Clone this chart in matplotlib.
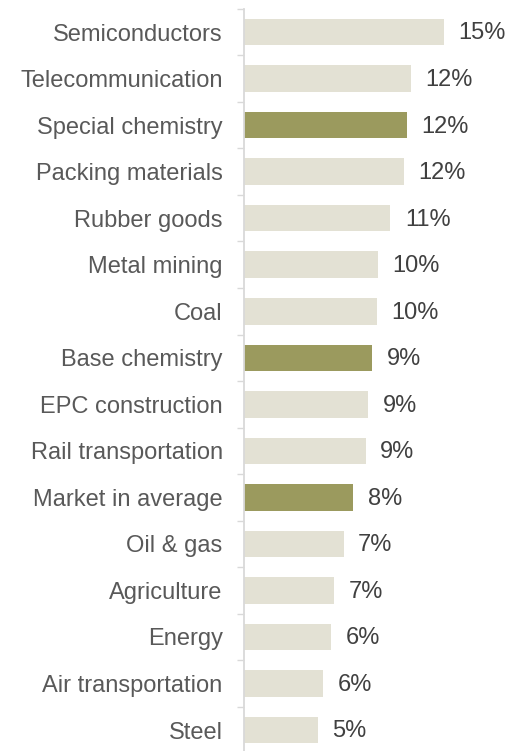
import matplotlib.pyplot as plt
import numpy as np

# sector returns, top to bottom
sectors = ['Semiconductors', 'Telecommunication', 'Special chemistry', 'Packing materials',
           'Rubber goods', 'Metal mining', 'Coal', 'Base chemistry', 'EPC construction',
           'Rail transportation', 'Market in average', 'Oil & gas', 'Agriculture', 'Energy',
           'Air transportation', 'Steel']
values = [14.6, 12.2, 11.9, 11.7, 10.7, 9.8, 9.7, 9.4, 9.1, 8.9, 8.0, 7.3, 6.6, 6.4, 5.8, 5.4]
highlight = ['Special chemistry', 'Base chemistry', 'Market in average']

plt.rcParams['font.family'] = ['Liberation Sans', 'DejaVu Sans']

fig = plt.figure(figsize=(5.11, 7.51), dpi=100)
ax = fig.add_axes([243.5 / 511, -2.3 / 751, 1 - 243.5 / 511, 744.5 / 751])

y = np.arange(len(sectors))
colors = ['#9B9A5E' if s in highlight else '#E3E1D4' for s in sectors]
ax.barh(y, values, height=0.57, color=colors)

for yi, v in zip(y, values):
    ax.annotate(f'{v:.0f}%', (v, yi), xytext=(10.5, -1), textcoords='offset points',
                ha='left', va='center', fontsize=17, color='#404040')

ax.set_ylim(len(sectors) - 0.5, -0.5)
ax.set_xlim(0, 19.5)

ax.set_yticks(y)
ax.set_yticklabels(sectors, fontsize=17, color='#595959')
ax.tick_params(axis='y', which='major', length=0, pad=15)
ax.set_yticks(np.arange(len(sectors) + 1) - 0.5, minor=True)
ax.tick_params(axis='y', which='minor', length=5, width=1, color='#D9D9D9')
ax.set_xticks([])

for side in ['top', 'right', 'bottom']:
    ax.spines[side].set_visible(False)
ax.spines['left'].set_color('#D9D9D9')
ax.spines['left'].set_linewidth(1.3)
ax.spines['left'].set_zorder(3)

plt.savefig('out.png', dpi=100)
